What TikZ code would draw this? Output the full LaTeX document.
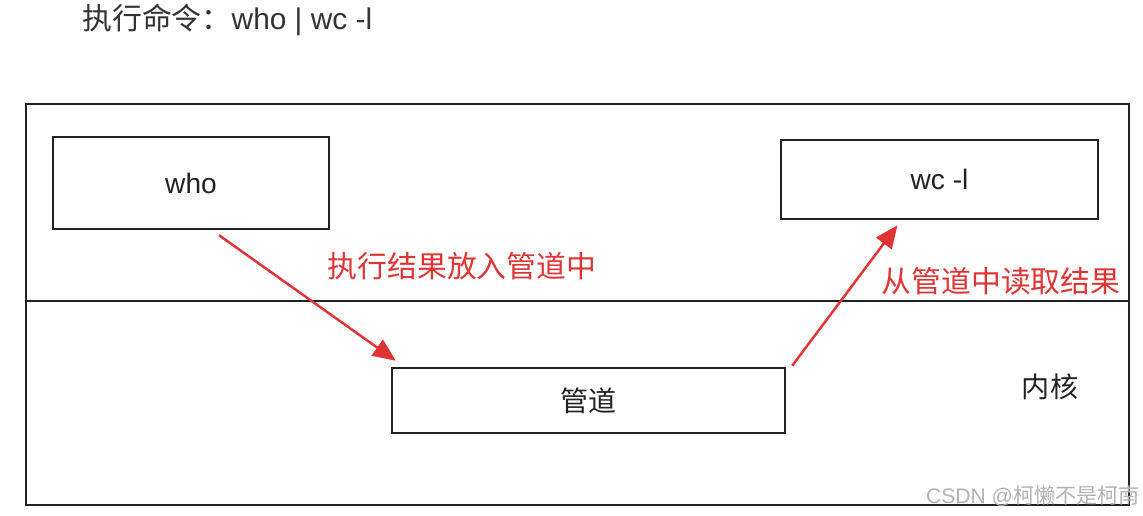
\documentclass[tikz,border=0pt]{standalone}
\usepackage{fontspec}
\setmainfont{Liberation Sans}
\newfontfamily\cjk{Noto Sans CJK SC}
\usepackage{xcolor}
\usetikzlibrary{positioning, arrows.meta, calc}
\definecolor{pipered}{HTML}{E03434}
\definecolor{inkgray}{HTML}{222222}

\begin{document}
\begin{tikzpicture}[
  x=0.02cm, y=-0.02cm,
  procbox/.style={draw=inkgray, line width=1.4pt, font=\fontsize{16}{19}\selectfont, text=inkgray, inner sep=0pt},
  note/.style={font=\fontsize{17}{20}\selectfont\cjk, text=pipered, inner sep=0pt},
  plain/.style={font=\fontsize{16}{19}\selectfont, text=inkgray, inner sep=0pt},
  arr/.style={-{Triangle[length=13pt, width=11pt]}, pipered, line width=1.4pt}
]
\useasboundingbox (0,0) rectangle (1143,516);

% title
\node[plain, anchor=west, text=black!80, font=\fontsize{17}{20}\selectfont] (title) at (82,20) {{\cjk 执行命令：}who | wc -l};

% user space / kernel
\draw[inkgray, line width=1.4pt] (26,104) rectangle (1129,505);
\draw[inkgray, line width=1.4pt] (26,301) -- (1129,301);

\node[procbox, minimum width=5.52cm, minimum height=1.84cm] (who) at (191,183) {who};
\node[procbox, minimum width=6.34cm, minimum height=1.58cm] (wc) at (939.5,179.5) {wc -l};
\node[procbox, minimum width=7.86cm, minimum height=1.3cm, font=\fontsize{16}{19}\selectfont\cjk] (pipe) at (588.5,400.5) {管道};
\node[plain, font=\fontsize{16}{19}\selectfont\cjk] (kernel) at (1050,387) {内核};

% data flow
\draw[arr] ($(who.south)+(28,5)$) -- ($(pipe.north west)+(5,-6)$);
\draw[arr] ($(pipe.north east)+(6,-1)$) -- ($(wc.south)+(-42,5)$);

\node[note] (putin) at (462,266) {执行结果放入管道中};
\node[note] (readout) at (1001,281) {从管道中读取结果};

\node[plain, anchor=east, font=\fontsize{12}{14}\selectfont, text=black!30] (mark) at (1140,496) {CSDN @{\cjk 柯懒不是柯南}};
\end{tikzpicture}
\end{document}
